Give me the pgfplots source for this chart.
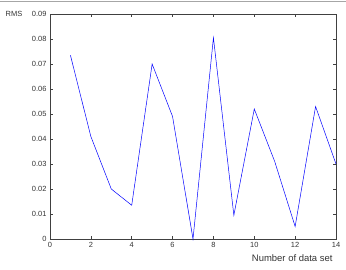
\documentclass[border=0pt]{standalone}
\usepackage{pgfplots}
\pgfplotsset{compat=1.18}
\usepackage{fontspec}
\setmainfont{Liberation Sans}
\begin{document}
\begin{tikzpicture}
\useasboundingbox (-50bp,-31bp) rectangle (296bp,239bp);
\draw[gray!70, line width=0.8bp] (-50bp,237.5bp) -- (296bp,237.5bp);
\begin{axis}[
  at={(0,0)}, anchor=south west,
  scale only axis, width=286bp, height=225bp,
  xmin=0, xmax=14, ymin=0, ymax=0.09,
  xtick={0,2,...,14},
  ytick={0,0.01,0.02,0.03,0.04,0.05,0.06,0.07,0.08,0.09},
  yticklabels={0,0.01,0.02,0.03,0.04,0.05,0.06,0.07,0.08,0.09},
  scaled y ticks=false,
  /pgf/number format/assume math mode=true,
  tick label style={font=\fontsize{7.5}{9}\selectfont, text=black!80},
  tick align=inside, major tick length=3bp,
  axis line style={black!75, line width=0.6bp},
  tick style={black!75, line width=0.5bp},
  clip=false,
]
\addplot[blue, line width=0.5bp] coordinates {
(1,0.0735) (2,0.041) (3,0.020) (4,0.0135) (5,0.070) (6,0.049) (7,0.0)
(8,0.0805) (9,0.0095) (10,0.052) (11,0.031) (12,0.005) (13,0.053) (14,0.030)
};
\end{axis}
\node[font=\fontsize{7.5}{9}\selectfont, text=black!80] at (-36bp,225bp) {RMS};
\node[font=\fontsize{9.5}{11}\selectfont, text=black!80, anchor=east] at (286bp,-19bp) {Number of data set};
\end{tikzpicture}
\end{document}
